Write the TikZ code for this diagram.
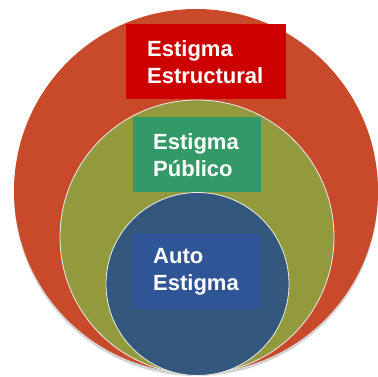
\documentclass[tikz,border=0pt]{standalone}
\usepackage{fontspec}
\setmainfont{Liberation Sans}
\usepackage{xcolor,tikz}
\definecolor{redring}{HTML}{C94A2B}
\definecolor{olivering}{HTML}{93993D}
\definecolor{bluering}{HTML}{34577E}
\definecolor{redbox}{HTML}{CC0000}
\definecolor{greenbox}{HTML}{339966}
\definecolor{bluebox}{HTML}{2F5597}

\begin{document}
\begin{tikzpicture}[x=1pt,y=-1pt,
  ring/.style={draw=white!85!gray,line width=0.8pt},
  label/.style={anchor=north west,align=left,text=white,
    font=\fontsize{22}{27}\selectfont\bfseries,minimum height=75pt,
    inner ysep=0pt}]
  \useasboundingbox (0,0) rectangle (378,377);
  % shadow and rings
  \fill[gray!35] (196,194) circle (182);
  \fill[redring] (196,191) circle (182);
  \filldraw[ring,fill=olivering] (197,237) circle (137);
  \filldraw[ring,fill=bluering] (197.5,284) circle (91.5);
  % labels
  \node[label,fill=redbox,inner xsep=21pt,text width=118pt] (estructural)
    at (126,24) {Estigma\\Estructural};
  \node[label,fill=greenbox,inner xsep=20pt,text width=88pt] (publico)
    at (133,117) {Estigma\\Público};
  \node[label,fill=bluebox,inner xsep=20pt,text width=88pt] (auto)
    at (133,234) {Auto\\Estigma};
\end{tikzpicture}
\end{document}
